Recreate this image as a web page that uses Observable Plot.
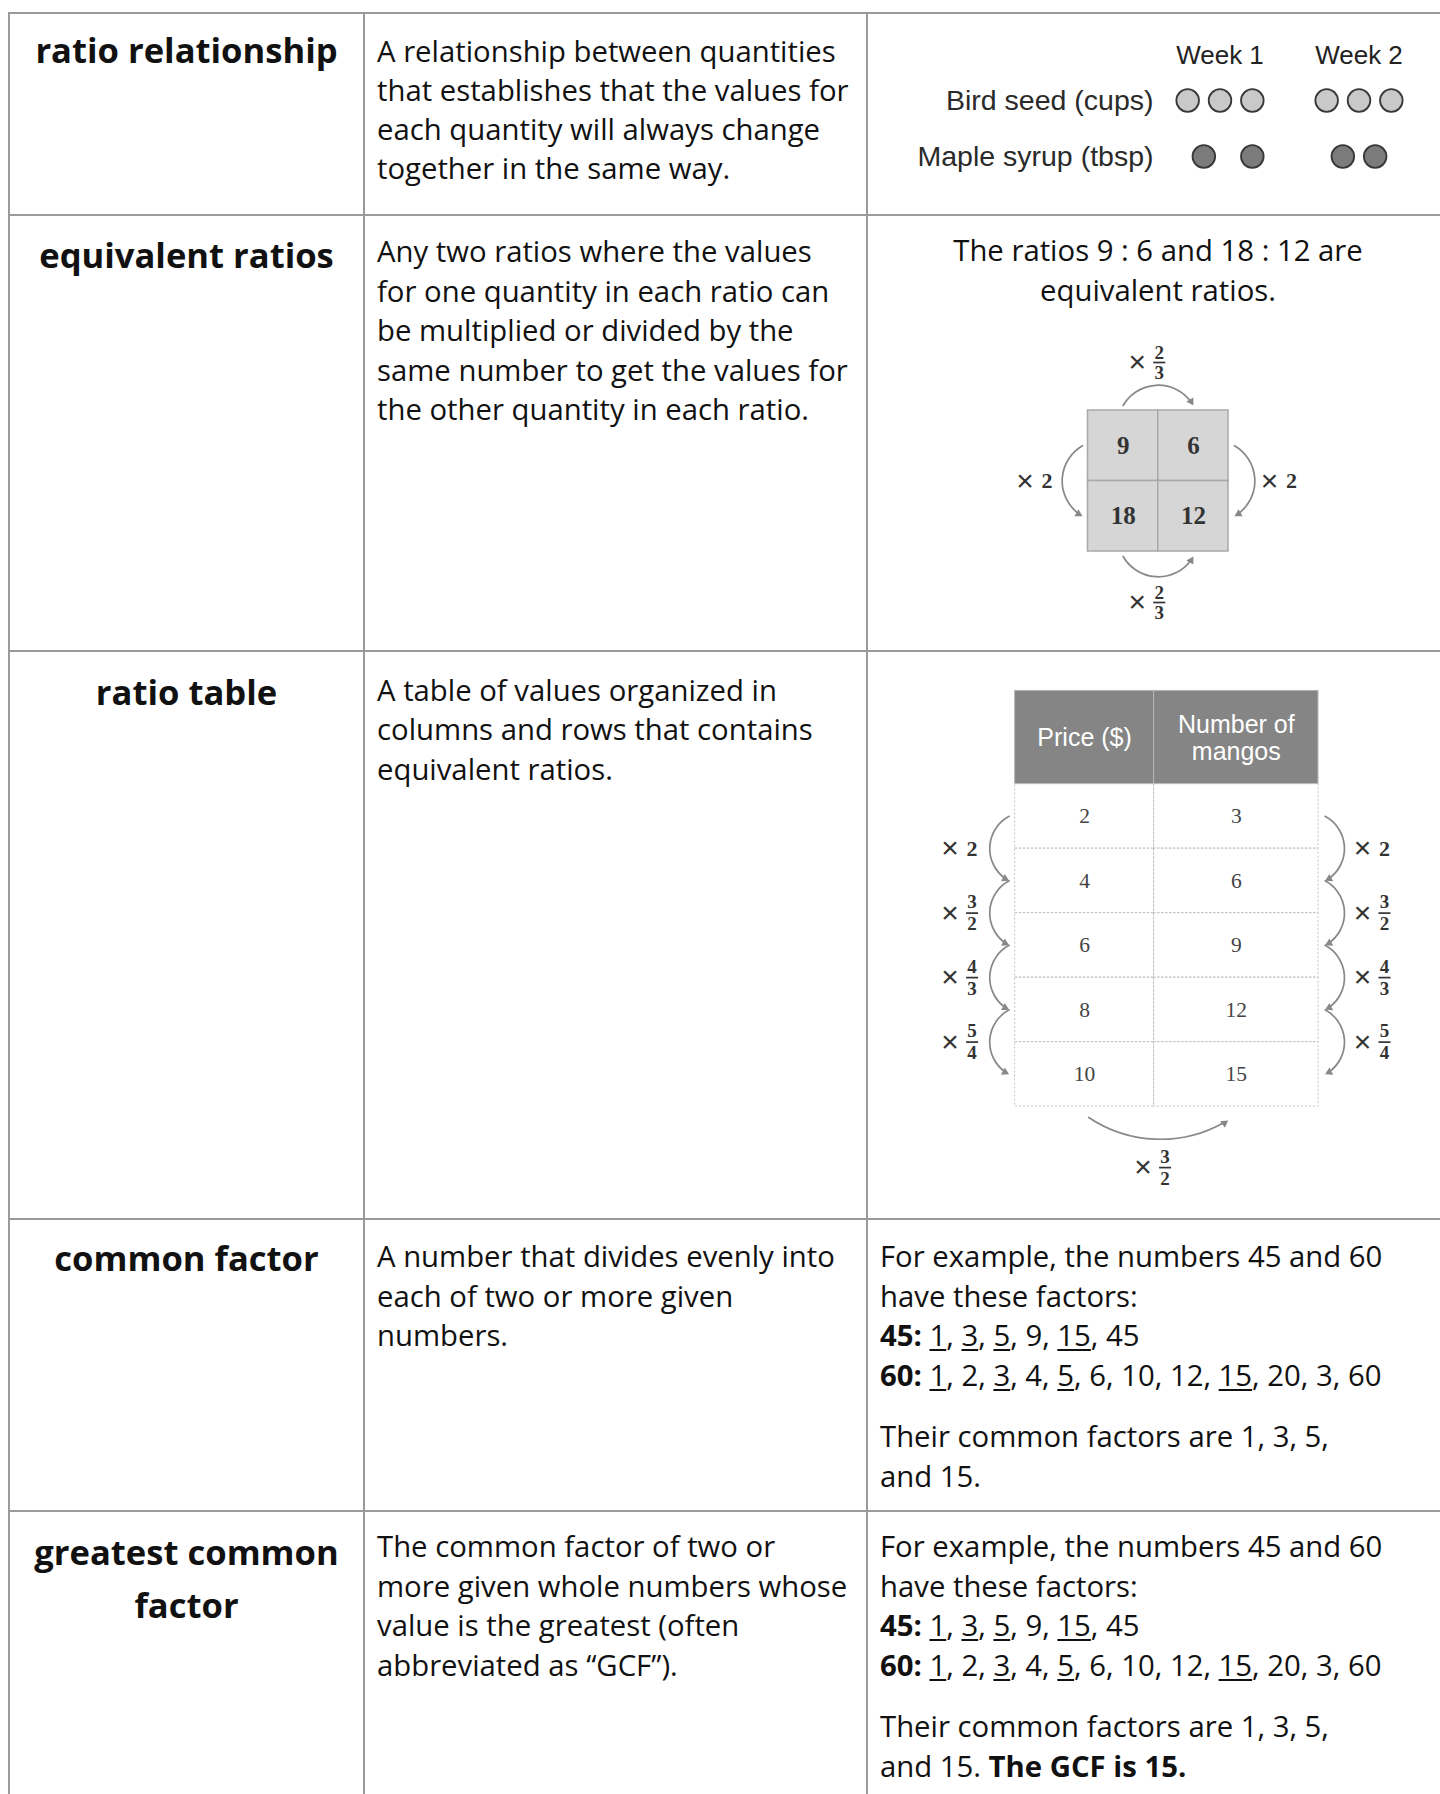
<!DOCTYPE html>
<html><head><meta charset="utf-8">
<script src="https://cdn.jsdelivr.net/npm/d3@7"></script>
<script src="https://cdn.jsdelivr.net/npm/@observablehq/plot@0.6"></script>
<style>
html,body{margin:0;padding:0;background:#fff;overflow:hidden;}
body{width:1440px;height:1794px;position:relative;}
#glossary{position:absolute;left:8px;top:12px;border-top:2px solid #9b9b9b;border-left:2px solid #9b9b9b;display:grid;grid-template-columns:355px 503px 582px;grid-template-rows:202px 436px 568px 292px 330px;color:#111;font-family:"Open Sans",sans-serif;}
.cell{box-sizing:border-box;border-right:2px solid #9b9b9b;border-bottom:2px solid #9b9b9b;position:relative;white-space:nowrap;}
.term{font-weight:700;font-size:34.6px;line-height:53px;text-align:center;}
.txt{font-size:29.3px;line-height:39.5px;padding-left:12px;}
.txt.center{text-align:center;padding-left:0;}
.txt p{margin:0}
.txt p + p{margin-top:22px}
.txt u{text-underline-offset:3px;text-decoration-thickness:2px}
.fig{position:absolute}
</style></head>
<body><div id="glossary"></div>
<script>
// ---------- data ----------
const terms = ["ratio relationship", "equivalent ratios", "ratio table", "common factor", "greatest common\nfactor"];
const definitions = [
  ["A relationship between quantities", "that establishes that the values for", "each quantity will always change", "together in the same way."],
  ["Any two ratios where the values", "for one quantity in each ratio can", "be multiplied or divided by the", "same number to get the values for", "the other quantity in each ratio."],
  ["A table of values organized in", "columns and rows that contains", "equivalent ratios."],
  ["A number that divides evenly into", "each of two or more given", "numbers."],
  ["The common factor of two or", "more given whole numbers whose", "value is the greatest (often", "abbreviated as \u201cGCF\u201d)."]
];

// ratio relationship picture
const weeks = ["Week 1", "Week 2"];
const items = ["Bird seed (cups)", "Maple syrup (tbsp)"];
const birdSeedSlots = [[0, 1, 2], [0, 1, 2]];
const mapleSyrupSlots = [[0.5, 2], [0.5, 1.5]];

// equivalent ratios picture
const ratioStatement = ["The ratios 9 : 6 and 18 : 12 are", "equivalent ratios."];
const ratioGrid = [[9, 6], [18, 12]];
const gridSteps = [
  {from: [0, 0], to: [0, 1], factor: "2/3", side: "top"},
  {from: [1, 0], to: [1, 1], factor: "2/3", side: "bottom"},
  {from: [0, 0], to: [1, 0], factor: "2", side: "left"},
  {from: [0, 1], to: [1, 1], factor: "2", side: "right"}
];

// ratio table picture
const mangoColumns = ["Price ($)", "Number of\nmangos"];
const mangoPrices = [2, 4, 6, 8, 10];
const mangoCounts = [3, 6, 9, 12, 15];
const mangoRowFactors = ["2", "3/2", "4/3", "5/4"];
const mangoColumnFactor = "3/2";

// common factor examples
const exampleIntro = ["For example, the numbers 45 and 60", "have these factors:"];
const factorLists = [
  {n: 45, factors: [1, 3, 5, 9, 15, 45]},
  {n: 60, factors: [1, 2, 3, 4, 5, 6, 10, 12, 15, 20, 3, 60]}
];
const commonFactors = [1, 3, 5, 15];
const exampleConclusion = ["Their common factors are 1, 3, 5,", "and 15."];
const gcfSentence = "The GCF is 15.";

// ---------- layout (not data) ----------
const rowLayout = [
  {termPad: 9, textPad: 18, lh: 39},
  {termPad: 12, textPad: 16, exPad: 15, lh: 39.5},
  {termPad: 13, textPad: 18.5, lh: 39.5},
  {termPad: 11, textPad: 17, exPad: 17, lh: 39.5},
  {termPad: 13, textPad: 15, exPad: 15, lh: 39.5}
];
const ink = "#333";
const arrowInk = "#888";
const sideOffset = {top: [0, -1], bottom: [0, 1], left: [-1, 0], right: [1, 0]};
const sideBend = {top: 1, bottom: -1, left: -1, right: 1};
const sideLineAngle = {top: 0, bottom: 0, left: 90, right: 90};

function stepGeom(d) {
  const [r1, c1] = d.from, [r2, c2] = d.to;
  if (r1 === r2) {
    const y = d.side === "top" ? r1 : r1 + 1;
    return {...d, x1: c1 + 0.5, x2: c2 + 0.5, y1: y, y2: y, lx: (c1 + c2 + 1) / 2, ly: y};
  }
  const x = d.side === "left" ? c1 : c1 + 1;
  return {...d, x1: x, x2: x, y1: r1 + 0.5, y2: r2 + 0.5, lx: x, ly: (r1 + r2 + 1) / 2};
}

const fractionBar = {draw(ctx, size) { const w = Math.sqrt(size / Math.PI); ctx.moveTo(-w, 0); ctx.lineTo(w, 0); }};

function stepMarks(steps, {arrowGap, bend, labelGap, shift = {}, inset = {}, fs}) {
  const marks = [];
  const headR = 3, tipToCentroid = 2 * Math.sqrt(Math.PI * headR * headR / (3 * Math.sqrt(3)));
  for (const side of Object.keys(sideOffset)) {
    const group = steps.filter(d => d.side === side);
    if (!group.length) continue;
    const [ox, oy] = sideOffset[side];
    const [inStart, inEnd] = inset[side] || [0, 0];
    const signedBend = sideBend[side] * bend[side];
    const endAngle = (sideLineAngle[side] + signedBend) * Math.PI / 180;
    const gx = ox * arrowGap[side], gy = oy * arrowGap[side];
    marks.push(Plot.arrow(group, {
      x1: "x1", y1: "y1", x2: "x2", y2: "y2",
      dx: gx, dy: gy, bend: signedBend,
      insetStart: inStart, insetEnd: inEnd + 5,
      headLength: 0, stroke: arrowInk, strokeWidth: 1.7
    }));
    const back = inEnd + tipToCentroid;
    marks.push(Plot.dot(group, {
      x: "x2", y: "y2",
      dx: gx - back * Math.cos(endAngle), dy: gy - back * Math.sin(endAngle),
      symbol: "triangle", r: headR, rotate: signedBend + sideLineAngle[side] + 90,
      fill: arrowInk, stroke: "none"
    }));
    const bx = ox * labelGap[side] + (shift[side] || 0), by = oy * labelGap[side];
    const ints = group.filter(d => !d.factor.includes("/"));
    const fracs = group.filter(d => d.factor.includes("/"));
    const pos = {x: "lx", y: "ly"};
    marks.push(Plot.text(group, {...pos, text: () => "\u00d7", dx: bx - 11, dy: by, fontFamily: "Liberation Sans", fontSize: fs.times, fill: ink}));
    marks.push(Plot.text(ints, {...pos, text: "factor", dx: bx + 11, dy: by, fontFamily: "Liberation Serif", fontWeight: "bold", fontSize: fs.whole, fill: ink}));
    marks.push(Plot.text(fracs, {...pos, text: d => d.factor.split("/")[0], dx: bx + 11, dy: by - fs.fracGap, fontFamily: "Liberation Serif", fontWeight: "bold", fontSize: fs.frac, fill: ink}));
    marks.push(Plot.text(fracs, {...pos, text: d => d.factor.split("/")[1], dx: bx + 11, dy: by + fs.fracGap, fontFamily: "Liberation Serif", fontWeight: "bold", fontSize: fs.frac, fill: ink}));
    marks.push(Plot.dot(fracs, {...pos, dx: bx + 11, dy: by, symbol: fractionBar, r: 6, fill: "none", stroke: ink, strokeWidth: 1.7}));
  }
  return marks;
}

const baseStyle = {background: "transparent", overflow: "visible"};

// ---------- figure A: bird seed / maple syrup ----------
function figureA() {
  const circles = [];
  weeks.forEach((w, i) => {
    birdSeedSlots[i].forEach(s => circles.push({week: w, item: items[0], slot: s}));
    mapleSyrupSlots[i].forEach(s => circles.push({week: w, item: items[1], slot: s}));
  });
  return Plot.plot({
    width: 549, height: 171,
    marginLeft: 303, marginRight: 10, marginTop: 57.65, marginBottom: 0,
    style: {...baseStyle, fontFamily: "Liberation Sans", color: "#2a2a2a"},
    fx: {domain: weeks, paddingInner: 0.305, paddingOuter: 0},
    x: {domain: [-0.5, 2.5], axis: null},
    y: {domain: items, padding: 0.5},
    color: {domain: items, range: ["#c9c9c9", "#7b7b7b"]},
    marks: [
      Plot.axisFx({anchor: "top", label: null, tickSize: 0, tickPadding: 8, fontSize: 26, fill: "#222"}),
      Plot.axisY({anchor: "left", label: null, tickSize: 0, tickPadding: 18, fontSize: 28.5, fill: "#2a2a2a"}),
      Plot.dot(circles, {fx: "week", x: "slot", y: "item", r: 11.3, fill: "item", stroke: "#383838", strokeWidth: 1.8})
    ]
  });
}

// ---------- figure B: 2x2 ratio grid ----------
function figureB() {
  const cells = ratioGrid.flatMap((row, r) => row.map((v, c) => ({r, c, v})));
  const steps = gridSteps.map(stepGeom);
  return Plot.plot({
    width: 300, height: 290, margin: 0,
    style: baseStyle,
    x: {domain: [0, 2], range: [79.5, 220], axis: null},
    y: {domain: [0, 2], range: [75, 216], axis: null},
    marks: [
      Plot.rect(cells, {x1: "c", x2: d => d.c + 1, y1: "r", y2: d => d.r + 1, fill: "#d6d6d6", stroke: "#a8a8a8", strokeWidth: 1.5}),
      Plot.text(cells, {x: d => d.c + 0.5, y: d => d.r + 0.5, text: "v", fontFamily: "Liberation Serif", fontWeight: "bold", fontSize: 25, fill: "#333"}),
      ...stepMarks(steps, {
        arrowGap: {top: 5, bottom: 5, left: 5.5, right: 6},
        bend: {top: 60, bottom: 60, left: 60, right: 60},
        labelGap: {top: 48, bottom: 51, left: 52, right: 52},
        shift: {top: -10, bottom: -10},
        fs: {times: 30, whole: 22, frac: 19, fracGap: 10}
      })
    ]
  });
}

// ---------- figure C: mango ratio table ----------
function figureC() {
  const header = mangoColumns.map((label, c) => ({label, c}));
  const body = [
    ...mangoPrices.map((v, r) => ({r, c: 0, v})),
    ...mangoCounts.map((v, r) => ({r, c: 1, v}))
  ];
  const steps = [
    ...mangoRowFactors.map((factor, i) => ({from: [i, 0], to: [i + 1, 0], factor, side: "left"})),
    ...mangoRowFactors.map((factor, i) => ({from: [i, 1], to: [i + 1, 1], factor, side: "right"})),
    {from: [mangoPrices.length - 1, 0], to: [mangoPrices.length - 1, 1], factor: mangoColumnFactor, side: "bottom"}
  ].map(stepGeom);
  const headerRow = -1;
  return Plot.plot({
    width: 470, height: 515, margin: 0,
    style: baseStyle,
    x: {type: "linear", domain: [0, 1, 2], range: [84.6, 223.6, 388], axis: null},
    y: {type: "linear", domain: [headerRow, 0, mangoPrices.length], range: [10.4, 103.6, 426.1], axis: null},
    marks: [
      Plot.rect(header, {x1: "c", x2: d => d.c + 1, y1: () => headerRow, y2: () => headerRow + 1, fill: "#858585", stroke: "#b5b5b5", strokeWidth: 1}),
      Plot.rect(body, {x1: "c", x2: d => d.c + 1, y1: "r", y2: d => d.r + 1, fill: "none", stroke: "#c2c2c2", strokeWidth: 1, strokeDasharray: "2,2"}),
      Plot.text(header, {x: d => d.c + 0.5, y: () => headerRow + 0.5, text: "label", fill: "white", fontFamily: "Liberation Sans", fontSize: 25, lineHeight: 1.1}),
      Plot.text(body, {x: d => d.c + 0.5, y: d => d.r + 0.5, text: "v", fill: "#444", fontFamily: "Liberation Serif", fontSize: 21.5}),
      ...stepMarks(steps, {
        arrowGap: {left: 6, right: 6.6, bottom: 8},
        bend: {left: 62, right: 62, bottom: 36},
        labelGap: {left: 54, right: 55, bottom: 61},
        inset: {bottom: [5, 10]},
        fs: {times: 30, whole: 22, frac: 19, fracGap: 11}
      })
    ]
  });
}

// ---------- examples for factor rows ----------
function factorExample(withGcf) {
  const lists = factorLists.map(({n, factors}) => {
    const seen = new Set();
    const parts = factors.map(f => {
      if (commonFactors.includes(f) && !seen.has(f)) { seen.add(f); return `<u>${f}</u>`; }
      return String(f);
    });
    return `<b>${n}:</b> ` + parts.join(", ");
  }).join("<br>");
  const concl = exampleConclusion.join("<br>") + (withGcf ? ` <b>${gcfSentence}</b>` : "");
  return `<p>${exampleIntro.join("<br>")}<br>${lists}</p><p>${concl}</p>`;
}

// ---------- build table ----------
const glossary = document.getElementById("glossary");
function addCell(cls, pad, html, lh) {
  const el = document.createElement("div");
  el.className = "cell " + cls;
  if (pad != null) el.style.paddingTop = pad + "px";
  if (lh != null) el.style.lineHeight = lh + "px";
  if (html != null) el.innerHTML = html;
  glossary.appendChild(el);
  return el;
}
function place(cell, svg, left, top) {
  svg.classList.add("fig");
  svg.style.left = left + "px";
  svg.style.top = top + "px";
  cell.appendChild(svg);
}
terms.forEach((term, i) => {
  const L = rowLayout[i];
  addCell("term", L.termPad, term.split("\n").join("<br>"));
  addCell("txt", L.textPad, definitions[i].join("<br>"), L.lh);
  if (i === 0) place(addCell("ex"), figureA(), 0, 0);
  if (i === 1) place(addCell("txt center", L.exPad, ratioStatement.join("<br>"), L.lh), figureB(), 140, 119);
  if (i === 2) place(addCell("ex"), figureC(), 62, 28);
  if (i === 3) addCell("txt", L.exPad, factorExample(false), L.lh);
  if (i === 4) addCell("txt", L.exPad, factorExample(true), L.lh);
});
</script>
</body></html>
